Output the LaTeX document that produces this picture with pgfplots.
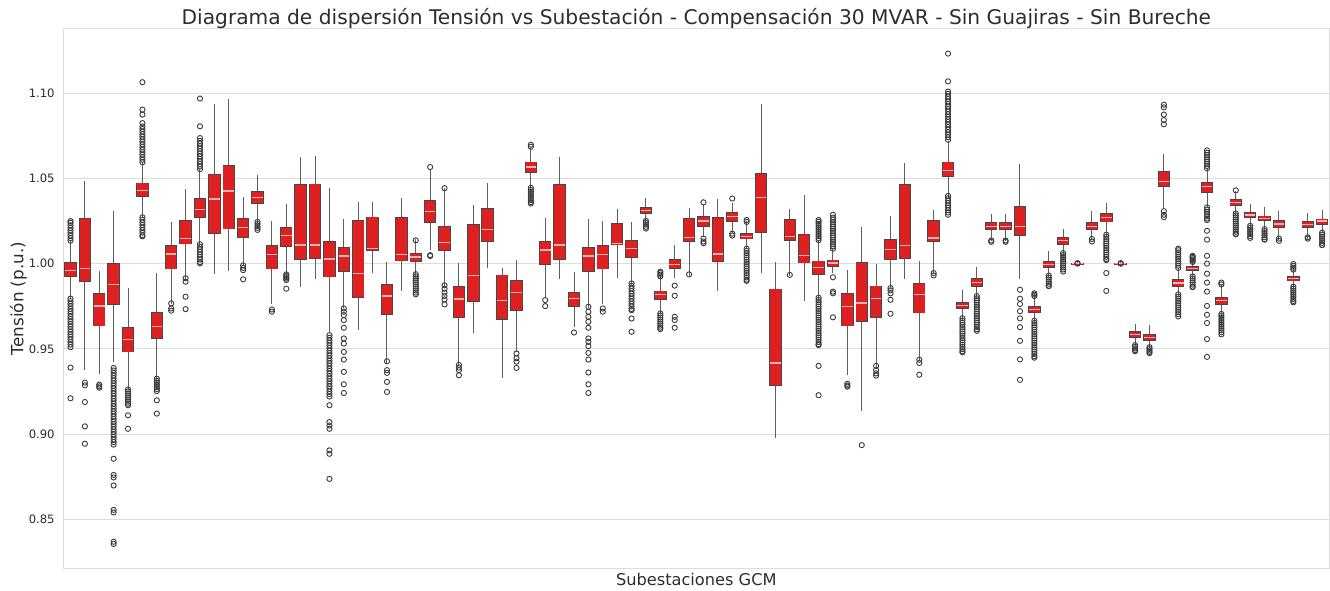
\documentclass[border=0pt]{standalone}
\usepackage{pgfplots}
\usepackage{pgfplotstable}
\pgfplotsset{compat=1.18}
\usepackage{fontspec}
\setmainfont{DejaVu Sans}
\definecolor{boxred}{RGB}{223,32,32}
\definecolor{edgegray}{RGB}{70,70,70}
\definecolor{whiskgray}{RGB}{95,95,95}
\definecolor{medpink}{RGB}{250,178,178}
\definecolor{outgray}{RGB}{60,60,60}
\definecolor{gridgray}{RGB}{220,220,220}
\definecolor{textgray}{RGB}{45,45,45}
\pgfplotstableread{
x lw q1 med q3 uw
0 0.981 0.9925 0.9959 1.0008 1.012
1 0.9392 0.9894 0.9971 1.0265 1.0467
2 0.9365 0.9635 0.9751 0.9825 0.9943
3 0.9439 0.9761 0.988 0.9998 1.0296
4 0.9271 0.9482 0.9557 0.9625 0.9841
5 1.0286 1.0394 1.0429 1.0473 1.058
6 0.9335 0.9561 0.9633 0.9714 0.9927
7 0.978 0.9969 1.0057 1.0106 1.0227
8 0.992 1.0116 1.0149 1.0251 1.0422
9 1.012 1.0273 1.032 1.0384 1.0541
10 0.9957 1.0175 1.038 1.0522 1.092
11 0.9973 1.0204 1.0427 1.0575 1.0953
12 1.0 1.0153 1.0214 1.0263 1.0375
13 1.0255 1.0353 1.0388 1.0424 1.0504
14 0.978 0.9969 1.0055 1.0104 1.0233
15 0.9945 1.0102 1.0163 1.0212 1.0335
16 0.988 1.0027 1.011 1.0463 1.0608
17 0.9924 1.0031 1.011 1.0467 1.0616
18 0.961 0.9922 1.0027 1.0129 1.0427
19 0.9757 0.9953 1.0045 1.0096 1.0247
20 0.9627 0.98 0.9943 1.0251 1.0345
21 0.9961 1.0078 1.0088 1.0273 1.0345
22 0.9433 0.9702 0.981 0.9878 0.9992
23 0.9855 1.0016 1.0055 1.0271 1.0373
24 0.995 1.0012 1.0039 1.0061 1.013
25 1.0094 1.0243 1.0304 1.0369 1.0541
26 0.9878 1.0078 1.0124 1.0218 1.0431
27 0.9414 0.9684 0.9792 0.9865 0.9988
28 0.961 0.978 0.9929 1.0227 1.0329
29 0.9988 1.0133 1.0202 1.0322 1.0459
30 0.9345 0.9675 0.9782 0.9933 0.9961
31 0.9496 0.9724 0.9831 0.99 1.0008
32 1.0453 1.0535 1.0567 1.0596 1.0665
33 0.9816 0.9998 1.008 1.0129 1.0251
34 0.9924 1.0027 1.011 1.0463 1.0612
35 0.9643 0.9747 0.9796 0.9829 0.9937
36 0.9757 0.9953 1.0045 1.0096 1.0247
37 0.978 0.9969 1.0055 1.0106 1.0233
38 0.9933 1.011 1.0118 1.0235 1.0306
39 0.989 1.0035 1.009 1.0135 1.0227
40 1.0257 1.0294 1.0314 1.0331 1.0369
41 0.9718 0.979 0.982 0.9839 0.9914
42 0.9933 0.9973 0.9996 1.0022 1.0094
43 0.9943 1.0133 1.0153 1.0263 1.0312
44 1.0172 1.022 1.025 1.0277 1.0331
45 0.9857 1.0013 1.0057 1.0271 1.0365
46 1.0193 1.025 1.0277 1.0298 1.034
47 1.0099 1.0145 1.0161 1.0178 1.0235
48 0.9962 1.0182 1.0388 1.0528 1.0919
49 0.8993 0.9283 0.9417 0.9851 0.9994
50 0.9945 1.0134 1.0161 1.026 1.0308
51 0.9794 1.0004 1.0046 1.0172 1.0386
52 0.9805 0.9935 0.9977 1.0015 1.0126
53 0.9958 0.9983 1.0004 1.0021 1.0075
54 0.9364 0.9635 0.9748 0.9826 0.9945
55 0.9148 0.9662 0.9769 1.0008 1.0199
56 0.9411 0.9685 0.9794 0.9868 0.9983
57 0.9868 1.0025 1.0082 1.0141 1.0266
58 0.9924 1.0031 1.0105 1.0464 1.0573
59 0.9448 0.9711 0.982 0.9885 1.0
60 0.9952 1.013 1.0151 1.0252 1.0298
61 1.0403 1.0514 1.0549 1.0596 1.0707
62 0.9685 0.9736 0.9755 0.9774 0.9832
63 0.9815 0.9868 0.9889 0.991 0.9966
64 1.0151 1.0199 1.022 1.0239 1.0277
65 1.0151 1.0199 1.022 1.0239 1.0277
66 0.9927 1.0164 1.0218 1.0336 1.0568
67 0.9668 0.9715 0.9732 0.9748 0.9805
68 0.9937 0.9977 0.9994 1.001 1.0057
69 1.0067 1.0115 1.0134 1.0151 1.0189
70 1.0 1.0 1.0 1.0 1.0
71 1.0155 1.0201 1.022 1.0241 1.0292
72 1.0176 1.0245 1.0273 1.0294 1.034
73 1.0 1.0 1.0 1.0 1.0
74 0.9532 0.9568 0.9585 0.96 0.9633
75 0.9518 0.9551 0.9568 0.9585 0.9622
76 1.0336 1.0455 1.048 1.0539 1.0629
77 0.9826 0.9868 0.9887 0.9906 0.9962
78 0.9931 0.9958 0.9973 0.9983 1.0004
79 1.034 1.042 1.0451 1.0476 1.0549
80 0.9711 0.9763 0.9784 0.9803 0.9868
81 1.0298 1.0342 1.0361 1.0378 1.0413
82 1.0224 1.0271 1.0285 1.0298 1.0336
83 1.021 1.0252 1.0266 1.0279 1.0315
84 1.0157 1.0214 1.0233 1.0252 1.0292
85 0.9868 0.9899 0.9912 0.9924 0.9962
86 1.016 1.0214 1.0231 1.0247 1.0281
87 1.0193 1.0231 1.025 1.0262 1.0298
}\boxdata
\pgfplotsset{outl/.style={only marks, mark=o, mark size=1.3pt, mark options={draw=outgray, line width=0.45pt, solid, fill=none}, forget plot}}
\newcommand{\ol}[2]{\addplot[outl] table[row sep=\\, x expr=#1, y index=0] {v\\ #2};}
\begin{document}
\begin{tikzpicture}
\useasboundingbox (0,0) rectangle (665pt,295pt);
\begin{axis}[
  at={(31.65pt,10.85pt)}, anchor=south west,
  scale only axis, width=633pt, height=269.8pt,
  xmin=-0.5, xmax=87.5, ymin=0.8212, ymax=1.1379,
  xtick=\empty,
  ytick={0.85,0.90,0.95,1.00,1.05,1.10},
  yticklabel style={/pgf/number format/fixed, /pgf/number format/fixed zerofill, /pgf/number format/precision=2, /pgf/number format/assume math mode=true, font=\fontsize{5.8}{7}\selectfont, text=textgray, anchor=east, inner sep=0pt, xshift=-4.15pt},
  major tick length=0pt,
  ymajorgrids, grid style={draw=gridgray, line width=0.5pt},
  axis line style={draw=gridgray, line width=0.5pt},
  title={Diagrama de dispersión Tensión vs Subestación - Compensación 30 MVAR - Sin Guajiras - Sin Bureche},
  title style={at={(axis description cs:0.5,1)}, anchor=base, yshift=-4.1pt, inner sep=0pt, font=\fontsize{10.1}{12}\selectfont, text=textgray},
  xlabel={Subestaciones GCM},
  xlabel style={at={(axis description cs:0.5,0)}, anchor=base, yshift=-8.35pt, inner sep=0pt, font=\fontsize{8.1}{10}\selectfont, text=textgray},
  ylabel={Tensión (p.u.)},
  ylabel style={at={(axis description cs:-0.0316,0.5)}, anchor=base, inner sep=0pt, font=\fontsize{8.4}{10}\selectfont, text=textgray},
]
% whiskers with caps
\addplot[draw=none, mark=none, forget plot, error bars/.cd, y dir=both, y explicit,
  error bar style={draw=whiskgray, line width=0.5pt},
  error mark=-, error mark options={draw=whiskgray, mark size=1.3pt, line width=0.5pt}]
  table[x=x, y=med, y error plus expr=\thisrow{uw}-\thisrow{med}, y error minus expr=\thisrow{med}-\thisrow{lw}] {\boxdata};
% box outline
\addplot[draw=none, mark=none, forget plot, error bars/.cd, y dir=both, y explicit,
  error bar style={draw=edgegray, line width=6.2pt, line cap=butt}, error mark=none]
  table[x=x, y=med, y error plus expr=\thisrow{q3}-\thisrow{med}+0.0003, y error minus expr=\thisrow{med}-\thisrow{q1}+0.0003] {\boxdata};
% box fill
\addplot[draw=none, mark=none, forget plot, error bars/.cd, y dir=both, y explicit,
  error bar style={draw=boxred, line width=5.3pt, line cap=butt}, error mark=none]
  table[x=x, y=med, y error plus expr=\thisrow{q3}-\thisrow{med}-0.0002, y error minus expr=\thisrow{med}-\thisrow{q1}-0.0002] {\boxdata};
% medians
\addplot[only marks, mark=-, mark size=2.65pt, mark options={draw=medpink, line width=0.6pt}, forget plot]
  table[x=x, y=med] {\boxdata};
% outliers
\ol{0}{1.0135\\1.015\\1.0165\\1.018\\1.0195\\1.021\\1.0225\\1.024\\1.025\\0.9795\\0.978\\0.9765\\0.975\\0.9735\\0.972\\0.9705\\0.969\\0.9675\\0.966\\0.9645\\0.963\\0.9615\\0.96\\0.9585\\0.957\\0.9555\\0.954\\0.9525\\0.951\\0.939\\0.921\\}
\ol{1}{0.9302\\0.9286\\0.9188\\0.9045\\0.8943\\}
\ol{2}{0.929\\0.928\\0.9272\\}
\ol{3}{0.9388\\0.9373\\0.9358\\0.9343\\0.9328\\0.9313\\0.9298\\0.9283\\0.9268\\0.9253\\0.9238\\0.9223\\0.9208\\0.9193\\0.9178\\0.9163\\0.9148\\0.9133\\0.9118\\0.9103\\0.9088\\0.9073\\0.9058\\0.9043\\0.9028\\0.9013\\0.8998\\0.8983\\0.8968\\0.8953\\0.8938\\0.8855\\0.876\\0.8745\\0.8698\\0.8555\\0.854\\0.8368\\0.8355\\}
\ol{4}{0.9262\\0.925\\0.9238\\0.9226\\0.9214\\0.9202\\0.919\\0.9178\\0.9169\\0.911\\0.9031\\}
\ol{5}{1.0595\\1.061\\1.0625\\1.064\\1.0655\\1.067\\1.0685\\1.07\\1.0715\\1.073\\1.0745\\1.076\\1.0775\\1.079\\1.0805\\1.0825\\1.0875\\1.0904\\1.1065\\1.0272\\1.0257\\1.0242\\1.0227\\1.0212\\1.0197\\1.0182\\1.0167\\1.016\\}
\ol{6}{0.9325\\0.9312\\0.93\\0.9288\\0.9276\\0.9264\\0.9252\\0.9198\\0.912\\}
\ol{7}{0.9767\\0.9737\\0.9724\\}
\ol{8}{0.9914\\0.9894\\0.9806\\0.9733\\}
\ol{9}{1.0555\\1.057\\1.0585\\1.06\\1.0615\\1.063\\1.0645\\1.066\\1.0675\\1.069\\1.0705\\1.072\\1.0737\\1.0806\\1.0969\\1.0114\\1.0099\\1.0084\\1.0069\\1.0054\\1.0039\\1.0024\\1.0009\\1.0002\\}
\ol{12}{0.999\\0.9975\\0.9962\\0.9908\\}
\ol{13}{1.0245\\1.0233\\1.0221\\1.021\\1.0198\\}
\ol{14}{0.9731\\0.9718\\}
\ol{15}{0.9937\\0.9928\\0.992\\0.9912\\0.9904\\0.9853\\}
\ol{18}{0.958\\0.9565\\0.955\\0.9535\\0.952\\0.9505\\0.949\\0.9475\\0.946\\0.9445\\0.943\\0.9415\\0.94\\0.9385\\0.937\\0.9355\\0.934\\0.9325\\0.931\\0.9295\\0.928\\0.9265\\0.925\\0.9235\\0.922\\0.9169\\0.907\\0.905\\0.9031\\0.8904\\0.8884\\0.8737\\}
\ol{19}{0.9737\\0.9718\\0.9698\\0.9669\\0.9624\\0.9561\\0.9531\\0.9482\\0.9437\\0.9365\\0.9292\\0.9241\\}
\ol{22}{0.9427\\0.9375\\0.9359\\0.9306\\0.9247\\}
\ol{24}{1.0137\\0.9938\\0.9926\\0.9914\\0.9902\\0.989\\0.9878\\0.9866\\0.9854\\0.9842\\0.983\\0.982\\}
\ol{25}{1.005\\1.0045\\1.0567\\}
\ol{26}{1.0443\\0.9873\\0.9853\\0.983\\0.981\\0.979\\0.9761\\}
\ol{27}{0.9406\\0.939\\0.9375\\0.9345\\}
\ol{31}{0.9473\\0.9445\\0.9425\\0.9388\\}
\ol{32}{1.0686\\1.0698\\1.0445\\1.0433\\1.0421\\1.0409\\1.0397\\1.0385\\1.0373\\1.0361\\1.0353\\}
\ol{33}{0.9786\\0.9751\\}
\ol{35}{0.9596\\}
\ol{36}{0.9747\\0.9718\\0.9688\\0.9659\\0.9624\\0.9561\\0.9541\\0.9516\\0.9476\\0.9437\\0.9361\\0.9292\\0.9241\\}
\ol{37}{0.9737\\0.9718\\}
\ol{39}{0.9884\\0.9869\\0.9854\\0.9839\\0.9824\\0.9809\\0.9794\\0.9779\\0.9764\\0.9749\\0.9734\\0.9727\\0.9678\\0.96\\}
\ol{40}{1.0251\\1.024\\1.0229\\1.0216\\1.0206\\}
\ol{41}{0.9925\\0.9935\\0.9945\\0.9953\\0.9708\\0.9696\\0.9684\\0.9672\\0.966\\0.9648\\0.9636\\0.9624\\0.9616\\}
\ol{42}{0.9871\\0.9812\\0.9688\\0.9669\\0.9624\\}
\ol{43}{0.9937\\}
\ol{44}{1.036\\1.0147\\1.013\\1.012\\}
\ol{46}{1.0382\\1.0176\\1.0165\\}
\ol{47}{1.0245\\1.0256\\1.0088\\1.0075\\1.0062\\1.0049\\1.0036\\1.0023\\1.001\\0.9997\\0.9984\\0.9971\\0.9958\\0.9945\\0.9932\\0.9919\\0.9906\\0.9899\\}
\ol{50}{0.9934\\}
\ol{52}{1.0138\\1.015\\1.0162\\1.0174\\1.0186\\1.0198\\1.021\\1.0222\\1.0234\\1.0246\\1.0256\\0.98\\0.9787\\0.9774\\0.9761\\0.9748\\0.9735\\0.9722\\0.9709\\0.9696\\0.9683\\0.967\\0.9657\\0.9644\\0.9631\\0.9618\\0.9605\\0.9592\\0.9579\\0.9566\\0.9553\\0.954\\0.9527\\0.9522\\0.94\\0.9228\\}
\ol{53}{1.0088\\1.0101\\1.0114\\1.0127\\1.014\\1.0153\\1.0166\\1.0179\\1.0192\\1.0205\\1.0218\\1.0231\\1.0244\\1.0257\\1.027\\1.0287\\0.992\\0.9836\\0.9826\\0.9685\\}
\ol{54}{0.9295\\0.9285\\0.9278\\}
\ol{55}{0.8935\\}
\ol{56}{0.94\\0.9375\\0.9356\\0.9343\\}
\ol{57}{0.9857\\0.9843\\0.9826\\0.9788\\0.9706\\}
\ol{59}{0.9436\\0.9417\\0.9348\\}
\ol{60}{0.9945\\0.9931\\}
\ol{61}{1.0727\\1.0742\\1.0757\\1.0772\\1.0787\\1.0802\\1.0817\\1.0832\\1.0847\\1.0862\\1.0877\\1.0892\\1.0907\\1.0922\\1.0937\\1.0952\\1.0967\\1.0982\\1.0997\\1.101\\1.107\\1.1233\\1.0398\\1.0384\\1.037\\1.0356\\1.0342\\1.0328\\1.0314\\1.03\\1.0287\\}
\ol{62}{0.968\\0.9667\\0.9654\\0.9641\\0.9628\\0.9615\\0.9602\\0.9589\\0.9576\\0.9563\\0.955\\0.9537\\0.9524\\0.9511\\0.9498\\0.9485\\0.948\\}
\ol{63}{0.981\\0.9797\\0.9784\\0.9771\\0.9758\\0.9745\\0.9732\\0.9719\\0.9706\\0.9693\\0.968\\0.9667\\0.9654\\0.9641\\0.9628\\0.9615\\0.9606\\}
\ol{64}{1.0136\\1.0128\\}
\ol{65}{1.0136\\1.0128\\}
\ol{66}{0.9847\\0.9794\\0.9763\\0.9721\\0.9679\\0.9627\\0.9547\\0.9438\\0.9318\\}
\ol{67}{0.981\\0.9818\\0.9826\\0.9665\\0.9652\\0.9639\\0.9626\\0.9613\\0.96\\0.9587\\0.9574\\0.9561\\0.9548\\0.9535\\0.9522\\0.9509\\0.9496\\0.9483\\0.947\\0.9457\\0.9448\\}
\ol{68}{0.993\\0.9918\\0.9906\\0.9894\\0.9882\\0.987\\0.9868\\}
\ol{69}{1.0062\\1.005\\1.0038\\1.0026\\1.0014\\1.0002\\0.999\\0.9978\\0.9966\\0.9954\\}
\ol{70}{1.0\\1.0003\\}
\ol{71}{1.0145\\1.013\\}
\ol{72}{1.017\\1.0157\\1.0144\\1.0131\\1.0118\\1.0105\\1.0092\\1.0079\\1.0066\\1.0053\\1.004\\1.0027\\1.0021\\0.9945\\0.984\\}
\ol{73}{1.0\\1.0003\\}
\ol{74}{0.9522\\0.9512\\0.9502\\0.9492\\0.9486\\}
\ol{75}{0.951\\0.95\\0.949\\0.9482\\0.9475\\}
\ol{76}{1.0308\\1.0287\\1.0273\\1.0818\\1.0843\\1.0875\\1.0917\\1.0933\\}
\ol{77}{0.9975\\0.9988\\1.0001\\1.0014\\1.0027\\1.004\\1.0053\\1.0066\\1.0079\\1.0088\\0.982\\0.9807\\0.9794\\0.9781\\0.9768\\0.9755\\0.9742\\0.9729\\0.9716\\0.9703\\0.969\\}
\ol{78}{1.001\\1.0018\\1.0025\\1.0033\\1.004\\1.0046\\0.9925\\0.9913\\0.9901\\0.9889\\0.9877\\0.9865\\0.9862\\}
\ol{79}{1.056\\1.0573\\1.0586\\1.0599\\1.0612\\1.0625\\1.0638\\1.0651\\1.0665\\1.033\\1.0317\\1.0304\\1.0291\\1.0278\\1.0265\\1.0256\\1.0193\\1.0141\\1.0046\\1.0\\0.9941\\0.9889\\0.9836\\0.9752\\0.97\\0.9652\\0.9557\\0.9453\\}
\ol{80}{0.9878\\0.9889\\0.9705\\0.9693\\0.9681\\0.9669\\0.9657\\0.9645\\0.9633\\0.9621\\0.9609\\0.9597\\0.9585\\}
\ol{81}{1.043\\1.0295\\1.0283\\1.0271\\1.0259\\1.0247\\1.0235\\1.0223\\1.0211\\1.0199\\1.0187\\1.0175\\1.0172\\}
\ol{82}{1.0222\\1.021\\1.0198\\1.0186\\1.0174\\1.0162\\1.0151\\}
\ol{83}{1.0203\\1.0191\\1.0179\\1.0167\\1.0155\\1.0143\\1.0141\\}
\ol{84}{1.0147\\1.0134\\}
\ol{85}{0.9965\\0.9976\\0.9987\\0.9998\\0.9865\\0.9853\\0.9841\\0.9829\\0.9817\\0.9805\\0.9793\\0.9781\\0.9773\\}
\ol{86}{1.0155\\1.0147\\}
\ol{87}{1.0182\\1.017\\1.0158\\1.0146\\1.0134\\1.0122\\1.011\\1.0109\\}
\end{axis}
\end{tikzpicture}
\end{document}
